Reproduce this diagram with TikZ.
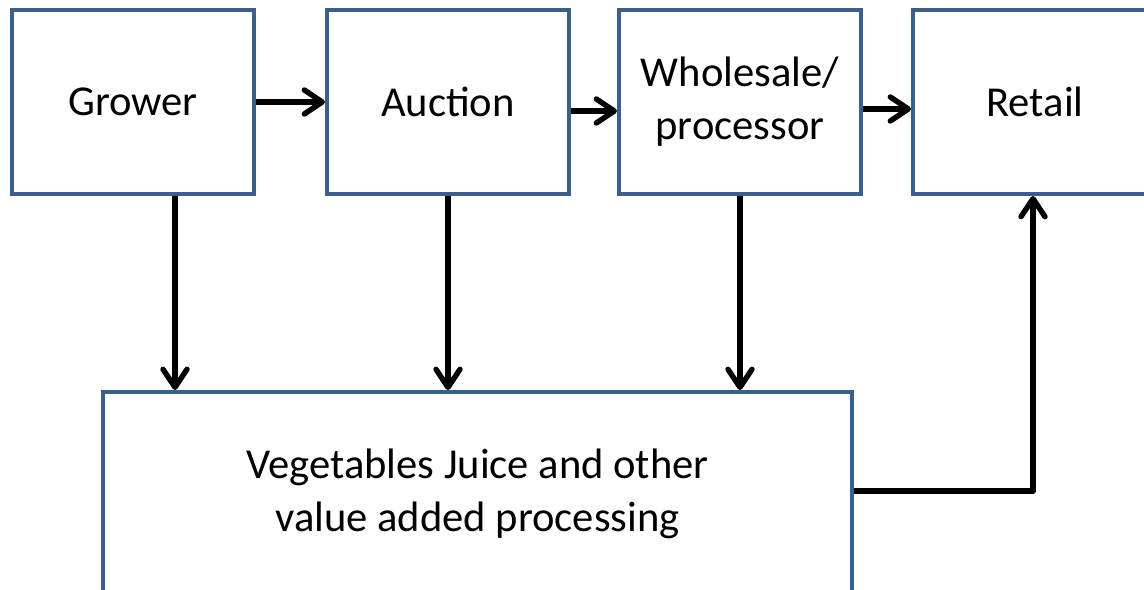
\documentclass[tikz,border=0pt]{standalone}
\usepackage{fontspec}
\setmainfont{Carlito}
\usetikzlibrary{arrows.meta}
\definecolor{boxblue}{RGB}{58,95,140}
\tikzset{
  stage/.style={draw=boxblue,line width=2pt,fill=white,minimum width=121pt,minimum height=92pt,align=center,font=\fontsize{21.3}{26.5}\selectfont},
  flow/.style={line width=2.7pt,line join=round,-{Straight Barb[length=9pt,width=12pt,round]}}
}
\begin{document}
\begin{tikzpicture}[x=0.5pt,y=-0.5pt]
\useasboundingbox (0,0) rectangle (1144,589);
\clip (0,0) rectangle (1144,589);
\node[stage] (grower) at (133,102) {Grower};
\node[stage] (auction) at (448,102) {Auction};
\node[stage] (whole) at (740,102) {Wholesale/\\processor};
\node[stage,minimum width=122pt] (retail) at (1035,102) {Retail};
\node[stage,minimum width=374.5pt,minimum height=102pt] (juice) at (477.5,494) {Vegetables Juice and other\\value added processing};
\draw[flow] (grower) -- (auction);
\draw[flow] ([yshift=-4.5pt]auction.east) -- ([yshift=-4.5pt]whole.west);
\draw[flow] ([yshift=-3.5pt]whole.east) -- ([yshift=-3.5pt]retail.west);
\draw[flow] ([xshift=21pt]grower.south) -- ([xshift=21pt]grower.south |- juice.north);
\draw[flow] (auction.south) -- (auction.south |- juice.north);
\draw[flow] (whole.south) -- (whole.south |- juice.north);
\draw[flow] ([yshift=1.5pt]juice.east) -| ([xshift=-1pt]retail.south);
\end{tikzpicture}
\end{document}
